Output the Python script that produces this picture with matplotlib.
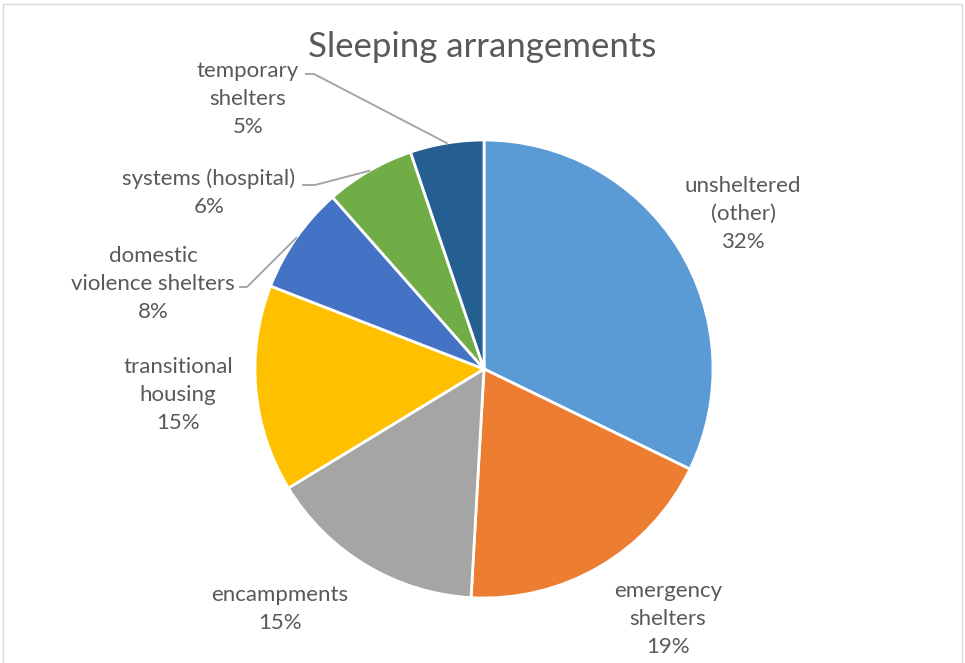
import numpy as np
import matplotlib
matplotlib.use("Agg")
from matplotlib import pyplot as plt
from matplotlib.patches import Rectangle

# slice data, clockwise from 12 o'clock
categories = ["unsheltered\n(other)", "emergency\nshelters", "encampments",
              "transitional\nhousing", "domestic\nviolence shelters",
              "systems (hospital)", "temporary\nshelters"]
shares = [32.2, 18.7, 15.4, 14.6, 7.6, 6.3, 5.2]
colors = ["#5B9BD5", "#ED7D31", "#A5A5A5", "#FFC000", "#4472C4", "#70AD47", "#255E91"]

W, H = 965, 663
CX, CY, R = 484, 369, 229

# label centres in pixels (x, y)
label_pos = [(743, 214), (668, 619), (280, 609), (178, 395),
             (153, 284), (209, 193), (248, 99)]
# leader elbows for the small slices: index -> (start x, start y, elbow x)
leaders = {4: (240, 287, 247), 5: (303, 185, 315), 6: (306, 74, 314)}

plt.rcParams["font.family"] = ["Lato", "DejaVu Sans"]
txt = "#595959"

fig = plt.figure(figsize=(W / 100, H / 100), dpi=100)
ax = fig.add_axes([0, 0, 1, 1])


def px(x, y):
    return x, H - y


wedges, _ = ax.pie(shares, colors=colors, startangle=90, counterclock=False,
                   center=px(CX, CY), radius=R, frame=True,
                   wedgeprops=dict(edgecolor="white", linewidth=2))
ax.set_xlim(0, W)
ax.set_ylim(0, H)
ax.set_aspect("equal")
ax.axis("off")

total = sum(shares)
cum = 0
for i, (name, val) in enumerate(zip(categories, shares)):
    mid = (cum + val / 2) / total * 2 * np.pi
    cum += val
    pct = "%d%%" % round(val / total * 100)
    x, y = px(*label_pos[i])
    ax.text(x, y, name + "\n" + pct, ha="center", va="center", fontsize=16,
            color=txt, linespacing=1.5)
    if i in leaders:
        sx, sy, ex = leaders[i]
        wx = CX + R * np.sin(mid)
        wy = CY - R * np.cos(mid)
        xs = [sx, ex, wx]
        ys = [H - sy, H - sy, H - wy]
        ax.plot(xs, ys, color="#A6A6A6", lw=1.4)

ax.text(*px(482, 47), "Sleeping arrangements", ha="center", va="center",
        fontsize=25, color=txt)

fig.patches.append(Rectangle((3 / W, -0.01), 959 / W, 1 - 4 / H + 0.01,
                             transform=fig.transFigure, fill=False,
                             edgecolor="#D9D9D9", lw=1))

fig.savefig("out.png", dpi=100)
